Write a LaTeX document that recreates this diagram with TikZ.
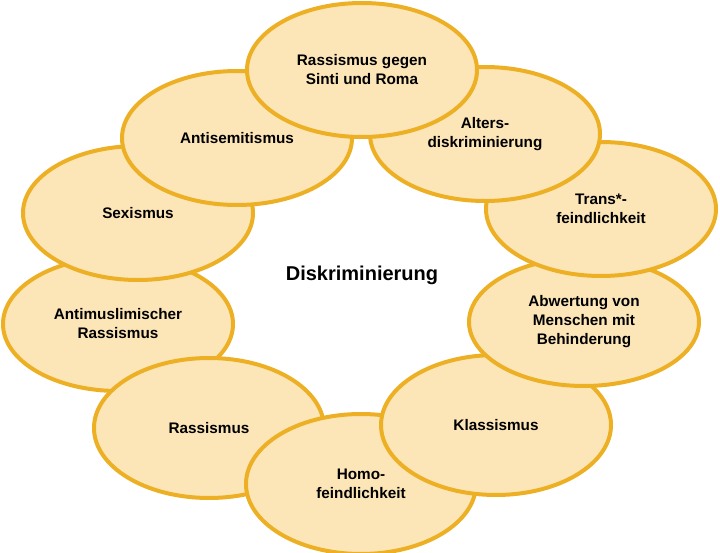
\documentclass[tikz,border=0pt]{standalone}
\usepackage{fontspec}
\setmainfont{Liberation Sans}
\usetikzlibrary{shapes.geometric}
\definecolor{ringline}{HTML}{EDB024}
\definecolor{ringfill}{HTML}{FCE6B8}
\begin{document}
\begin{tikzpicture}[x=1pt, y=-1pt,
		form/.style={ellipse, draw=ringline, fill=ringfill, line width=4pt, minimum width=230pt, minimum height=134pt, inner sep=0pt, align=center, font=\fontsize{15.3}{19}\selectfont\bfseries}]
	\useasboundingbox (0,0) rectangle (720,553);
	% lower ones first, so that the overlaps come out right
	\node[form] (muslim) at (118,324) {Antimuslimischer\\Rassismus};
	\node[form, minimum height=140pt] (rass) at (209,428) {Rassismus};
	\node[form, minimum height=140pt] (homo) at (361,484) {Homo-\\feindlichkeit};
	\node[form, minimum height=140pt] (klass) at (496,425) {Klassismus};
	\node[form, minimum height=128pt] (behind) at (584,322) {Abwertung von\\Menschen mit\\Behinderung};
	\node[form] (trans) at (601,209) {Trans*-\\feindlichkeit};
	\node[form] (alter) at (485,134) {Alters-\\diskriminierung};
	\node[form] (sex) at (138,213) {Sexismus};
	\node[form] (antisem) at (237,138) {Antisemitismus};
	\node[form] (sinti) at (362,70) {Rassismus gegen\\Sinti und Roma};
	\node[font=\fontsize{20}{24}\selectfont\bfseries] (disk) at (362,275) {Diskriminierung};
\end{tikzpicture}
\end{document}
